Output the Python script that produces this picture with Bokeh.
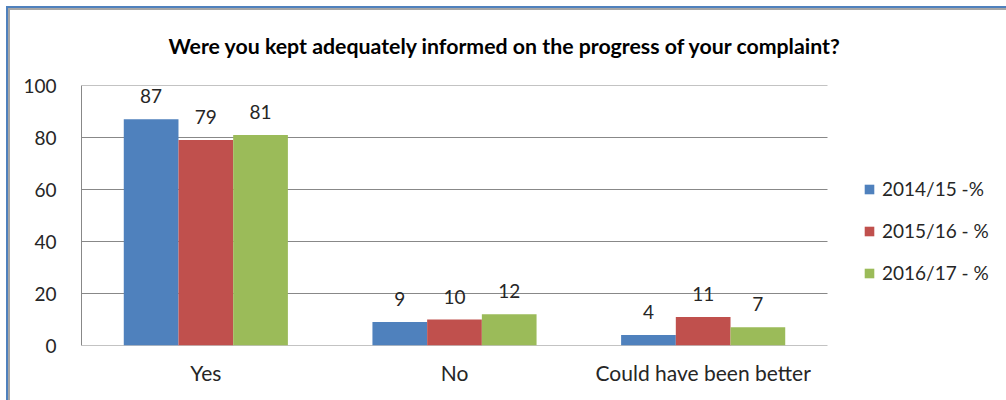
from bokeh.plotting import figure
from bokeh.models import (ColumnDataSource, Legend, LegendItem, LabelSet, Title,
                          Range1d, FixedTicker)
from bokeh.core.properties import value
from bokeh.embed import file_html
from bokeh.resources import INLINE

categories = ["Yes", "No", "Could have been better"]
series_names = ["2014/15 -%", "2015/16 - %", "2016/17 - %"]
v2014 = [87, 9, 4]
v2015 = [79, 10, 11]
v2016 = [81, 12, 7]
y_ticks = [0, 20, 40, 60, 80, 100]
title_text = "Were you kept adequately informed on the progress of your complaint?"

colors = ["#4F81BD", "#C0504D", "#9BBB59"]
FONT = "Lato"
TXT = "#262626"
GRID = "#888888"

n = len(categories)
xc = [i + 0.5 for i in range(n)]          # category centres on a numeric scale
PLOT_W = 746                                # width of the category area (px)
FRAME_W = 1006 - 81                         # frame continues under the legend

src = ColumnDataSource(dict(x=xc, a=v2014, b=v2015, c=v2016,
                            la=[str(v) for v in v2014],
                            lb=[str(v) for v in v2015],
                            lc=[str(v) for v in v2016]))

p = figure(width=1006, height=400, output_backend="svg", toolbar_location=None,
           x_range=Range1d(0, n * FRAME_W / PLOT_W),
           y_range=Range1d(0, 100),
           min_border_left=81, min_border_right=0, min_border_top=85,
           min_border_bottom=55)
p.outline_line_color = None
p.background_fill_color = "white"
p.border_fill_color = None
# chart-area border (top and left edges, as in the reference crop)
p.styles = {
    "background-color": "white",
    "background-image": ("linear-gradient(#4F81BD,#4F81BD), linear-gradient(#A6A6A6,#A6A6A6), "
                         "linear-gradient(#4F81BD,#4F81BD), linear-gradient(#A6A6A6,#A6A6A6)"),
    "background-position": "6px 6px, 8px 8px, 6px 6px, 8px 8px",
    "background-size": "1000px 2px, 998px 2px, 2px 394px, 2px 392px",
    "background-repeat": "no-repeat",
}

# horizontal gridlines only across the category area
p.xgrid.visible = False
p.ygrid.visible = False
p.segment(x0=[0] * len(y_ticks), x1=[n] * len(y_ticks), y0=y_ticks, y1=y_ticks,
          line_color=GRID, line_width=1)

p.yaxis.ticker = FixedTicker(ticks=y_ticks)
p.xaxis.ticker = FixedTicker(ticks=xc)
p.xaxis.major_label_overrides = {x: c for x, c in zip(xc, categories)}
p.xaxis.axis_line_color = None
p.yaxis.axis_line_color = GRID
for ax in (p.xaxis[0], p.yaxis[0]):
    ax.major_tick_line_color = None
    ax.minor_tick_line_color = None
    ax.major_label_text_font = FONT
    ax.major_label_text_color = TXT
p.yaxis.major_label_text_font_size = "19px"
p.xaxis.major_label_text_font_size = "21px"
p.yaxis.major_label_standoff = 19
p.xaxis.major_label_standoff = 8

offsets = [-0.22, 0.0, 0.22]
fields = ["a", "b", "c"]
lfields = ["la", "lb", "lc"]
items = []
for off, f, lf, col, name in zip(offsets, fields, lfields, colors, series_names):
    xs = [x + off for x in xc]
    src.data["x_" + f] = xs
    r = p.vbar(x="x_" + f, top=f, width=0.22,
               source=src, fill_color=col, line_color=None)
    items.append(LegendItem(label=name, renderers=[r]))
    p.add_layout(LabelSet(x="x_" + f, y=f, text=lf,
                          source=src, text_align="center",
                          text_baseline="alphabetic", y_offset=16,
                          text_font=value(FONT), text_font_size=value("19px"),
                          text_color=TXT))

legend = Legend(items=items, location=(782, 61), orientation="vertical",
                glyph_width=12, glyph_height=12, label_height=20,
                spacing=19, padding=0, margin=0, label_standoff=7,
                label_text_font=FONT, label_text_font_size="19px",
                label_text_color=TXT, border_line_color=None,
                background_fill_alpha=0)
p.add_layout(legend)

p.add_layout(Title(text=title_text, align="left", offset=87, standoff=54,
                   vertical_align="bottom", text_font=FONT,
                   text_font_size="21.3px", text_font_style="bold",
                   text_color="#000000"), "above")

open("out.html", "w").write(file_html(p, INLINE))
